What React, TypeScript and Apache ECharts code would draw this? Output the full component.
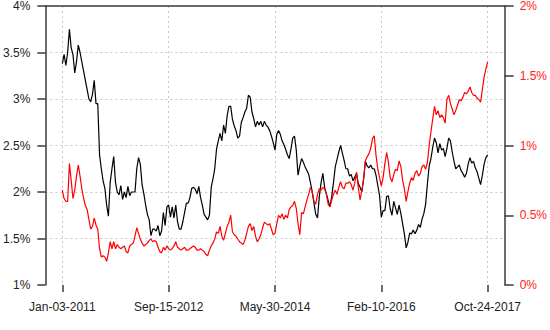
import React, { useEffect, useRef } from "react";
import * as echarts from "echarts";

// Tick labels on the x axis (positions = index of sampled observation)
const xTickValues = [0, 60, 120, 180, 240];
const xTickLabels = ["Jan-03-2011", "Sep-15-2012", "May-30-2014", "Feb-10-2016", "Oct-24-2017"];

// Black series (left axis, %)
const blackValues = [
  3.38, 3.48, 3.36, 3.5, 3.75, 3.55, 3.48, 3.28, 3.4, 3.58,
  3.5, 3.4, 3.3, 3.2, 3.1, 3.0, 2.97, 3.05, 3.2, 2.95,
  2.95, 2.4, 2.25, 2.12, 2.04, 1.86, 1.74, 2.1, 2.25, 2.38,
  2.1, 2.0, 1.97, 2.07, 1.92, 2.0, 1.94, 2.06, 1.96, 2.0,
  2.0, 2.0, 2.25, 2.37, 2.3, 2.08, 1.98, 1.86, 1.76, 1.7,
  1.53, 1.6, 1.6, 1.58, 1.64, 1.53, 1.58, 1.78, 1.64, 1.84,
  1.86, 1.73, 1.84, 1.72, 1.86, 1.68, 1.6, 1.6, 1.68, 1.78,
  1.88, 1.88, 1.94, 2.04, 2.05, 2.03, 1.98, 2.06, 1.94, 1.86,
  1.76, 1.73, 1.7, 1.75, 2.05, 2.14, 2.25, 2.46, 2.55, 2.63,
  2.55, 2.72, 2.63, 2.82, 2.92, 2.92, 2.78, 2.71, 2.66, 2.58,
  2.6, 2.75, 2.8, 2.86, 2.9, 3.04, 3.02, 2.86, 2.79, 2.7,
  2.76, 2.72, 2.76, 2.7, 2.76, 2.72, 2.7, 2.66, 2.6, 2.53,
  2.45, 2.62, 2.66, 2.62, 2.55, 2.51, 2.46, 2.4, 2.36, 2.46,
  2.58, 2.6, 2.45, 2.18, 2.28, 2.36, 2.32, 2.27, 2.23, 2.19,
  2.1, 2.0, 1.88, 1.76, 1.72, 1.95, 2.1, 2.2, 2.05, 1.98,
  1.91, 1.84, 1.95, 2.1, 2.27, 2.35, 2.43, 2.5, 2.42, 2.34,
  2.25, 2.25, 2.17, 2.19, 2.12, 2.16, 2.2, 2.09, 2.05, 2.0,
  2.14, 2.33, 2.28, 2.26, 2.29, 2.25, 2.25, 2.18, 2.07, 1.96,
  1.73, 1.8, 1.8, 1.95, 1.96, 1.82, 1.75, 1.9, 1.83, 1.76,
  1.86, 1.77, 1.66, 1.55, 1.4, 1.46, 1.56, 1.55, 1.59, 1.55,
  1.59, 1.65, 1.62, 1.71, 1.77, 1.87, 2.09, 2.28, 2.36, 2.48,
  2.58, 2.53, 2.42, 2.52, 2.45, 2.47, 2.38, 2.47, 2.58, 2.55,
  2.43, 2.33, 2.25, 2.27, 2.29, 2.23, 2.2, 2.16, 2.2, 2.3,
  2.37, 2.31, 2.33, 2.26, 2.22, 2.15, 2.08, 2.18, 2.3, 2.37,
  2.4,
];

// Red series (right axis, %)
const redValues = [
  0.68, 0.62, 0.6, 0.6, 0.87, 0.75, 0.62, 0.68, 0.78, 0.86,
  0.78, 0.69, 0.62, 0.57, 0.54, 0.47, 0.4, 0.42, 0.48, 0.43,
  0.4, 0.26, 0.2, 0.21, 0.2, 0.17, 0.23, 0.31, 0.26, 0.31,
  0.26, 0.29, 0.27, 0.26, 0.27, 0.28, 0.24, 0.23, 0.28, 0.29,
  0.3, 0.35, 0.41, 0.37, 0.33, 0.3, 0.28, 0.29, 0.3, 0.32,
  0.33, 0.31, 0.32, 0.31, 0.27, 0.24, 0.23, 0.27, 0.25, 0.28,
  0.26, 0.25, 0.26, 0.28, 0.31, 0.27, 0.26, 0.25, 0.26, 0.27,
  0.25, 0.25, 0.26, 0.27, 0.28, 0.27, 0.25, 0.25, 0.26, 0.25,
  0.24, 0.22, 0.21, 0.25, 0.28, 0.3, 0.33, 0.38, 0.37, 0.42,
  0.35, 0.32, 0.37, 0.42, 0.45, 0.5, 0.38, 0.36, 0.35, 0.33,
  0.31, 0.3, 0.29, 0.32, 0.37, 0.42, 0.44, 0.39, 0.42, 0.35,
  0.31, 0.33, 0.36, 0.41, 0.45, 0.44, 0.43, 0.44, 0.4, 0.36,
  0.37, 0.44, 0.5, 0.48, 0.51, 0.47, 0.5, 0.48, 0.54, 0.56,
  0.57, 0.6, 0.55, 0.44, 0.36, 0.52, 0.51, 0.56, 0.61, 0.65,
  0.7, 0.67, 0.6, 0.58, 0.65, 0.69, 0.68, 0.7, 0.69, 0.65,
  0.58, 0.56, 0.61, 0.65, 0.68, 0.65, 0.7, 0.74, 0.7, 0.69,
  0.73, 0.73, 0.74, 0.72, 0.68, 0.73, 0.81, 0.7, 0.61, 0.68,
  0.76, 0.89, 0.92, 0.94, 0.98, 1.05, 1.07, 0.93, 0.83, 0.77,
  0.71, 0.77, 0.87, 0.95, 0.88, 0.77, 0.74, 0.79, 0.83, 0.82,
  0.89, 0.85, 0.75, 0.69, 0.6, 0.67, 0.73, 0.77, 0.75, 0.8,
  0.82, 0.78, 0.8, 0.85, 0.86, 0.83, 0.88, 1.0, 1.1, 1.19,
  1.28, 1.22, 1.25, 1.2, 1.22, 1.2, 1.16, 1.33, 1.36, 1.3,
  1.26, 1.22, 1.25, 1.29, 1.33, 1.32, 1.345, 1.38, 1.37, 1.39,
  1.42, 1.38, 1.36, 1.36, 1.34, 1.33, 1.31, 1.4, 1.49, 1.55,
  1.6,
];

const FONT = "'Liberation Sans', Arial, sans-serif";
const AXIS_COLOR = "#3a3a3a";
const GRID_COLOR = "#c8c8c8";

export default function App() {
  const ref = useRef<HTMLDivElement>(null);

  useEffect(() => {
    if (!ref.current) return;
    const chart = echarts.init(ref.current, undefined, { renderer: "svg" });
    const pad = 9.58; // plot padding beyond first/last observation, in index units
    const xMin = xTickValues[0] - pad;
    const xMax = xTickValues[xTickValues.length - 1] + pad;
    const step = xTickValues[1] - xTickValues[0];
    chart.setOption({
      animation: false,
      backgroundColor: "#ffffff",
      grid: { left: 45, right: 45, top: 5, bottom: 45, containLabel: false },
      xAxis: [
        {
          type: "value",
          min: xMin,
          max: xMax,
          position: "bottom",
          axisLine: { show: false, onZero: false },
          axisTick: {
            show: true,
            customValues: xTickValues,
            length: 7,
            lineStyle: { color: AXIS_COLOR, width: 1.5 },
          },
          axisLabel: {
            show: true,
            customValues: xTickValues,
            formatter: (v: number) => xTickLabels[Math.round(v / step)] ?? "",
            margin: 16,
            fontSize: 12,
            color: "#222",
            fontFamily: FONT,
          },
          splitLine: {
            show: true,
            lineStyle: { color: GRID_COLOR, type: [2, 3], width: 1 },
          },
        },
        {
          type: "value",
          min: xMin,
          max: xMax,
          position: "top",
          axisLine: { show: true, onZero: false, lineStyle: { color: AXIS_COLOR, width: 1.5 } },
          axisTick: { show: false },
          axisLabel: { show: false },
          splitLine: { show: false },
        },
      ],
      yAxis: [
        {
          type: "value",
          min: 1,
          max: 4,
          interval: 0.5,
          position: "left",
          axisLine: { show: true, onZero: false, lineStyle: { color: AXIS_COLOR, width: 1.5 } },
          axisTick: { show: true, length: 8, lineStyle: { color: AXIS_COLOR, width: 1.5 } },
          axisLabel: {
            formatter: (v: number) => `${v}%`,
            margin: 15,
            fontSize: 12,
            color: "#222",
            fontFamily: FONT,
          },
          splitLine: {
            show: true,
            showMinLine: false,
            showMaxLine: false,
            lineStyle: { color: GRID_COLOR, type: [2, 3], width: 1 },
          },
        },
        {
          type: "value",
          min: 0,
          max: 2,
          interval: 0.5,
          position: "right",
          axisLine: { show: true, onZero: false, lineStyle: { color: AXIS_COLOR, width: 1.5 } },
          axisTick: { show: true, length: 9, lineStyle: { color: AXIS_COLOR, width: 1.5 } },
          axisLabel: {
            formatter: (v: number) => `${v}%`,
            margin: 15,
            fontSize: 12,
            color: "#ff2020",
            fontFamily: FONT,
          },
          splitLine: { show: false },
        },
      ],
      series: [
        {
          type: "line",
          xAxisIndex: 0,
          yAxisIndex: 0,
          data: blackValues.map((v, i) => [i, v]),
          showSymbol: false,
          symbol: "none",
          lineStyle: { color: "#000000", width: 1.2 },
          silent: true,
        },
        {
          type: "line",
          xAxisIndex: 0,
          yAxisIndex: 1,
          data: redValues.map((v, i) => [i, v]),
          showSymbol: false,
          symbol: "none",
          lineStyle: { color: "#ff0000", width: 1.2 },
          silent: true,
        },
      ],
    });
    return () => chart.dispose();
  }, []);

  return (
    <div
      ref={ref}
      style={{ position: "fixed", left: 0, top: 0, width: 550, height: 330, background: "#fff" }}
    />
  );
}
